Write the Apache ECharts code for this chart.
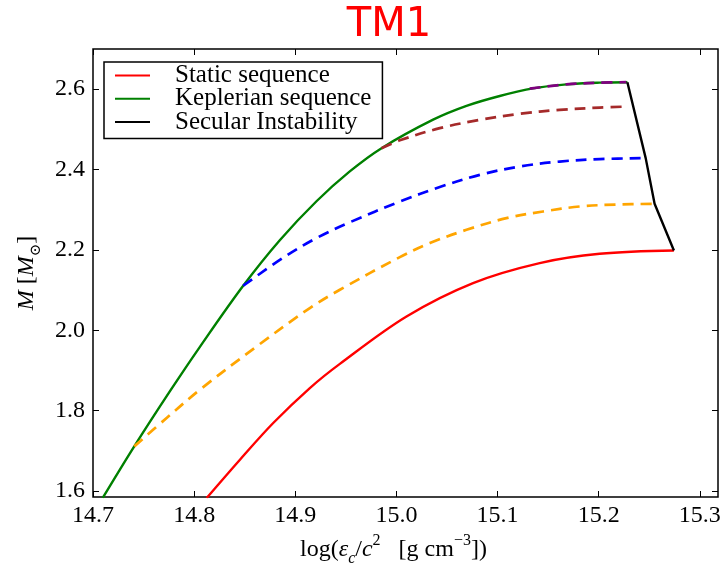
<!DOCTYPE html>
<html><head><meta charset="utf-8">
<script src="https://cdn.jsdelivr.net/npm/echarts@6/dist/echarts.min.js"></script>
<style>html,body{margin:0;padding:0;background:#fff}#c{width:725px;height:569px}</style>
</head><body><div id="c"></div>
<script>
// ---- data ----
const legendNames = ['Static sequence', 'Keplerian sequence', 'Secular Instability'];
const xTicks = [14.7, 14.8, 14.9, 15.0, 15.1, 15.2, 15.3];
const yTicks = [1.6, 1.8, 2.0, 2.2, 2.4, 2.6];
const staticSeq = [[14.8124,1.5826],[14.8453,1.6779],[14.8782,1.7692],[14.9144,1.8562],[14.9441,1.9164],[15.0100,2.0343],[15.0758,2.1174],[15.1417,2.1672],[15.2010,2.1903],[15.2744,2.1985]];
const keplerSeq = [[14.7096,1.5826],[14.7408,1.7110],[14.7761,1.8483],[14.8057,1.9587],[14.8485,2.1107],[14.8847,2.2241],[14.9210,2.3211],[14.9539,2.3953],[14.9853,2.4532],[15.0363,2.5241],[15.0693,2.5585],[15.1022,2.5831],[15.1351,2.6020],[15.1681,2.6119],[15.2010,2.6162],[15.2284,2.6174]];
const secularSeq = [[15.2284,2.6174],[15.2465,2.4284],[15.2553,2.3147],[15.2744,2.1985]];
const orangeSeq = [[14.7408,1.7110],[14.7728,1.7816],[14.8057,1.8520],[14.8618,1.9597],[14.9144,2.0552],[14.9441,2.1007],[15.0034,2.1821],[15.0331,2.2169],[15.0693,2.2500],[15.1088,2.2791],[15.1450,2.2955],[15.1812,2.3080],[15.2175,2.3129],[15.2553,2.3147]];
const blueSeq = [[14.8485,2.1107],[14.8880,2.1804],[14.9210,2.2294],[14.9539,2.2687],[15.0034,2.3204],[15.0429,2.3565],[15.0824,2.3868],[15.1219,2.4075],[15.1615,2.4199],[15.2010,2.4259],[15.2465,2.4284]];
const brownSeq = [[14.9853,2.4532],[15.0034,2.4727],[15.0429,2.5030],[15.0824,2.5236],[15.1219,2.5386],[15.1615,2.5485],[15.2010,2.5542],[15.2273,2.5567]];
const purpleSeq = [[15.1318,2.6015],[15.1681,2.6119],[15.2010,2.6162],[15.2273,2.6174]];
const xRange = [14.7, 15.318];
const yRange = [1.585, 2.7];

const serif = 'Liberation Serif';
const chart = echarts.init(document.getElementById('c'), null, {renderer: 'canvas'});
const richName = {
  n: {fontFamily: serif, fontSize: 24, color: '#000', lineHeight: 34},
  i: {fontFamily: serif, fontSize: 24, fontStyle: 'italic', color: '#000', lineHeight: 34},
  sup: {fontFamily: serif, fontSize: 16, color: '#000', lineHeight: 16, verticalAlign: 'top'},
  sub: {fontFamily: serif, fontSize: 16, fontStyle: 'italic', color: '#000', lineHeight: 16, verticalAlign: 'bottom'},
  subn: {fontFamily: 'DejaVu Serif', fontSize: 15, color: '#000', lineHeight: 16, verticalAlign: 'bottom'}
};
function tick(vals) {
  return {show: true, inside: true, length: 6, customValues: vals, lineStyle: {color: '#000', width: 1}};
}
function xAx(pos, labels) {
  return {
    type: 'value', position: pos, min: xRange[0], max: xRange[1],
    axisLine: {show: false}, splitLine: {show: false}, axisTick: tick(xTicks),
    axisLabel: {show: labels, customValues: xTicks, formatter: v => v.toFixed(1),
      fontFamily: serif, fontSize: 24, color: '#000', margin: 7}
  };
}
function yAx(pos, labels) {
  return {
    type: 'value', position: pos, min: yRange[0], max: yRange[1],
    axisLine: {show: false}, splitLine: {show: false}, axisTick: tick(yTicks),
    axisLabel: {show: labels, customValues: yTicks, formatter: v => v.toFixed(1),
      fontFamily: serif, fontSize: 24, color: '#000', margin: 8}
  };
}
const xb = xAx('bottom', true);
xb.name = '{n|log(}{i|ε}{sub|c}{n|/}{i|c}{sup|2}{n|   [g cm}{sup|−3}{n|])}';
xb.nameLocation = 'middle'; xb.nameGap = 35;
xb.nameTextStyle = {rich: richName, padding: [0, 24, 0, 0]};
const yl = yAx('left', true);
yl.name = '{i|M}{n| [}{i|M}{subn|⊙}{n|]}';
yl.nameLocation = 'middle'; yl.nameGap = 49; yl.nameRotate = 90;
yl.nameTextStyle = {rich: richName};

function ln(name, data, color, dashed) {
  return {type: 'line', name: name, data: data, symbol: 'none', showSymbol: false,
    smooth: 0.35, clip: true,
    lineStyle: {color: color, width: dashed ? 2.7 : 2.4, type: dashed ? [11, 7] : 'solid'},
    itemStyle: {color: color}, z: dashed ? 3 : 2};
}

chart.setOption({
  animation: false,
  backgroundColor: '#fff',
  title: {text: 'TM1', left: 384, textAlign: 'center', top: 1,
    textStyle: {color: '#ff0000', fontFamily: 'DejaVu Sans', fontSize: 40, fontWeight: 'normal'}},
  grid: {left: 93, right: 7, top: 49, bottom: 72, show: true, borderColor: '#000', borderWidth: 1.5,
    containLabel: false, outerBoundsMode: 'none'},
  xAxis: [xb, xAx('top', false)],
  yAxis: [yl, yAx('right', false)],
  legend: {
    data: legendNames.map(n => ({name: n, icon: 'rect'})), orient: 'vertical', left: 104, top: 62,
    backgroundColor: '#fff', borderColor: '#000', borderWidth: 1.5, borderRadius: 0,
    padding: [1, 11, 4, 11], itemGap: -1.7, itemWidth: 35, itemHeight: 2,
    textStyle: {fontFamily: serif, fontSize: 25, color: '#000', lineHeight: 23.3, padding: [0, 0, 0, 20]}
  },
  series: [
    ln('Static sequence', staticSeq, '#ff0000', false),
    ln('Keplerian sequence', keplerSeq, '#008000', false),
    ln('orange', orangeSeq, '#ffa500', true),
    ln('blue', blueSeq, '#0000ff', true),
    ln('brown', brownSeq, '#a52a2a', true),
    ln('purple', purpleSeq, '#800080', true),
    Object.assign(ln('Secular Instability', secularSeq, '#000000', false), {smooth: false})
  ]
});
</script>
</body></html>
